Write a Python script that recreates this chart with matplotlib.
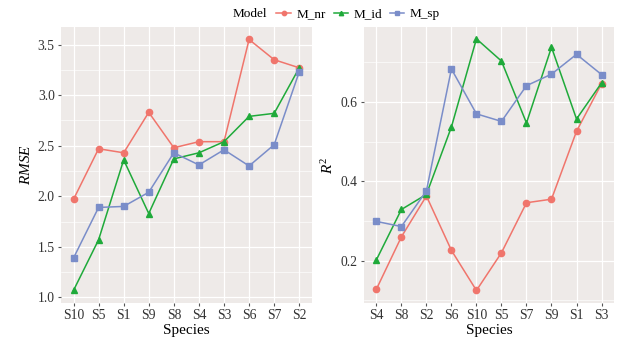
import matplotlib
matplotlib.use("Agg")
import matplotlib.pyplot as plt
from matplotlib.ticker import MultipleLocator, FormatStrFormatter

plt.rcParams["font.family"] = ["Liberation Serif", "DejaVu Serif"]
plt.rcParams["mathtext.fontset"] = "custom"
plt.rcParams["mathtext.it"] = "Liberation Serif:italic"
plt.rcParams["mathtext.rm"] = "Liberation Serif"

# RMSE panel
rmse_species = ["S10", "S5", "S1", "S9", "S8", "S4", "S3", "S6", "S7", "S2"]
rmse_nr = [1.97, 2.47, 2.43, 2.83, 2.48, 2.54, 2.54, 3.55, 3.35, 3.27]
rmse_id = [1.07, 1.57, 2.36, 1.83, 2.37, 2.43, 2.54, 2.79, 2.82, 3.27]
rmse_sp = [1.39, 1.89, 1.90, 2.04, 2.43, 2.31, 2.46, 2.30, 2.51, 3.23]

# R2 panel
r2_species = ["S4", "S8", "S2", "S6", "S10", "S5", "S7", "S9", "S1", "S3"]
r2_nr = [0.128, 0.260, 0.363, 0.226, 0.125, 0.220, 0.346, 0.355, 0.526, 0.646]
r2_id = [0.202, 0.329, 0.367, 0.537, 0.759, 0.703, 0.547, 0.738, 0.557, 0.648]
r2_sp = [0.299, 0.286, 0.376, 0.683, 0.570, 0.551, 0.641, 0.670, 0.720, 0.669]

models = ["M_nr", "M_id", "M_sp"]
colors = ["#F0756C", "#1FAA3A", "#7A8DC9"]
markers = ["o", "^", "s"]

fig = plt.figure(figsize=(6.35, 3.41), dpi=100)
ax1 = fig.add_axes([0.096, 0.111, 0.395, 0.81])
ax2 = fig.add_axes([0.573, 0.111, 0.394, 0.81])


def draw(ax, species, series, ylim, major, ylabel):
    x = list(range(len(species)))
    for vals, c, m, name in zip(series, colors, markers, models):
        ax.plot(x, vals, color=c, marker=m, markersize=4.5, linewidth=1.1,
                label=name, zorder=3)
    ax.set_facecolor("#EEEAE8")
    ax.set_xticks(x)
    ax.set_xticklabels(species)
    ax.set_xlim(-0.5, len(species) - 0.5)
    ax.set_ylim(*ylim)
    ax.yaxis.set_major_locator(MultipleLocator(major))
    ax.yaxis.set_minor_locator(MultipleLocator(major / 2))
    ax.yaxis.set_major_formatter(FormatStrFormatter("%.1f"))
    ax.grid(which="major", color="white", linewidth=0.9, zorder=0)
    ax.grid(which="minor", axis="y", color="white", linewidth=0.45, zorder=0)
    ax.set_axisbelow(True)
    for s in ax.spines.values():
        s.set_visible(False)
    ax.tick_params(axis="both", which="major", length=2.5, color="#555555",
                   labelsize=9.8, labelcolor="#333333", pad=2)
    ax.tick_params(axis="y", which="minor", length=0)
    ax.set_xlabel("Species", fontsize=11, labelpad=1)
    ax.set_ylabel(ylabel, fontsize=11, labelpad=3)


draw(ax1, rmse_species, [rmse_nr, rmse_id, rmse_sp], (0.944, 3.674), 0.5,
     r"$\mathit{RMSE}$")
draw(ax2, r2_species, [r2_nr, r2_id, r2_sp], (0.093, 0.789), 0.2,
     r"$\mathit{R}^{\mathrm{2}}$")

handles, labels = ax1.get_legend_handles_labels()
fig.text(0.367, 0.958, "Model", fontsize=9.5, ha="left", va="center")
fig.legend(handles, labels, loc="center left", bbox_to_anchor=(0.427, 0.958),
           ncol=3, frameon=False, fontsize=9.5, handlelength=1.1,
           handletextpad=0.4, columnspacing=0.6, borderaxespad=0,
           markerscale=0.7)

fig.savefig("out.png", dpi=100)
